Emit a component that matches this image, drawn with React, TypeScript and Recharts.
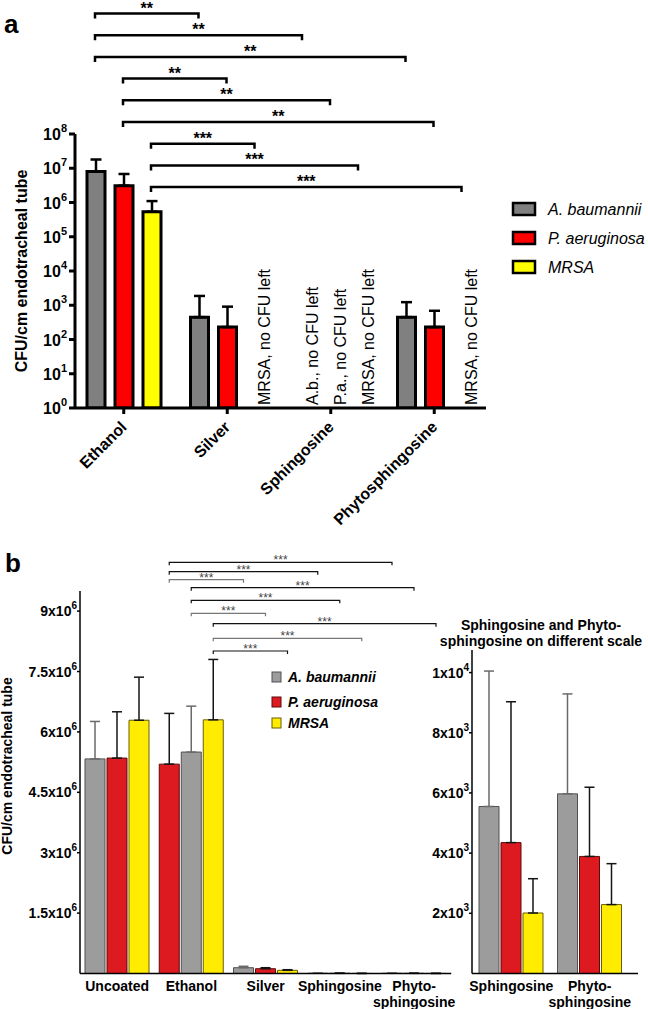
import React from "react";
import { Bar, BarChart, Cell, ErrorBar, ReferenceDot, XAxis, YAxis } from "recharts";

const FONT = "'Liberation Sans', Arial, Helvetica, sans-serif";

const speciesNames = ["A. baumannii", "P. aeruginosa", "MRSA"];

// ---- panel a: log scale ----
const catsA = ["Ethanol", "Silver", "Sphingosine", "Phytosphingosine"];
const abA = [8.0e6, 450, null, 450];
const abSdA = [1.0e7, 1420, null, 780];
const paA = [3.1e6, 230, null, 230];
const paSdA = [3.7e6, 680, null, 460];
const mrsaA = [5.4e5, null, null, null];
const mrsaSdA = [5.6e5, null, null, null];
const abNoteA = [null, null, "A.b., no CFU left", null];
const paNoteA = [null, null, "P.a., no CFU left", null];
const mrsaNoteA = [null, "MRSA, no CFU left", "MRSA, no CFU left", "MRSA, no CFU left"];
const ticksA = [1, 1e1, 1e2, 1e3, 1e4, 1e5, 1e6, 1e7, 1e8];
// Ethanol vs coating, same species slot: [slot, target category, stars]
const sigA: [number, number, string][] = [
  [0, 1, "**"], [0, 2, "**"], [0, 3, "**"],
  [1, 1, "**"], [1, 2, "**"], [1, 3, "**"],
  [2, 1, "***"], [2, 2, "***"], [2, 3, "***"],
];

// ---- panel b: linear scale ----
const catsB = ["Uncoated", "Ethanol", "Silver", "Sphingosine", "Phyto-sphingosine"];
const abB = [5.33e6, 5.5e6, 1.44e5, 5.55e3, 5.97e3];
const abSdB = [0.93e6, 1.14e6, 0.35e5, 4.5e3, 3.32e3];
const paB = [5.35e6, 5.2e6, 1.19e5, 4.35e3, 3.89e3];
const paSdB = [1.15e6, 1.26e6, 0.25e5, 4.68e3, 2.3e3];
const mrsaB = [6.29e6, 6.3e6, 0.79e5, 2.01e3, 2.29e3];
const mrsaSdB = [1.07e6, 1.5e6, 0.15e5, 1.14e3, 1.36e3];
// bar order inside each group (Ethanol has P. aeruginosa first)
const orderB = [
  ["ab", "pa", "mrsa"],
  ["pa", "ab", "mrsa"],
  ["ab", "pa", "mrsa"],
  ["ab", "pa", "mrsa"],
  ["ab", "pa", "mrsa"],
];
const ticksB = [1.5e6, 3e6, 4.5e6, 6e6, 7.5e6, 9e6];
const ticksC = [2e3, 4e3, 6e3, 8e3, 1e4];
// Ethanol slot vs coating slot: [slot, target category]
const sigB: [number, number][] = [
  [0, 4], [0, 3], [0, 2],
  [1, 4], [1, 3], [1, 2],
  [2, 4], [2, 3], [2, 2],
];

// ---- styles / layout ----
const COLORS_A = ["#808080", "#ff0000", "#ffff00"];
const STYLE_B: any = {
  ab: { fill: "#9c9c9c", stroke: "#505050", err: "#6a6a6a" },
  pa: { fill: "#dc1a1f", stroke: "#5c0b0b", err: "#151515" },
  mrsa: { fill: "#ffec00", stroke: "#6b5e00", err: "#151515" },
};
const SIG_B_Y = [562.3, 571.7, 579.7, 587.7, 600.3, 613.3, 623.7, 638.3, 651];
const SIG_B_COLOR = ["#111", "#111", "#777", "#111", "#111", "#777", "#111", "#777", "#111"];

const A = { w: 648, h: 540, top: 134, right: 162, yW: 75, padL: -3, barSize: 18, barGap: 10 };
const B = { top: 540, w: 460, h: 469, mTop: 51, mRight: 8.75, yW: 80, barSize: 20, barGap: 2 };
const C = { left: 420, w: 228, mTop: 110, mRight: 10, yW: 52, padR: 9 };

// centre of a bar slot, same arithmetic as the band scale + bar offset
function slotCenter(r0: number, r1: number, n: number, cat: number, slot: number, size: number, gap: number) {
  const band = (r1 - r0) / n;
  const group = 3 * size + 2 * gap;
  const offset = Math.floor((band - group) / 2);
  return r0 + band * cat + offset + slot * (size + gap) + size / 2;
}

const rowsA = catsA.map((cat, i) => ({
  cat,
  ab: abA[i], abErr: abSdA[i] == null ? null : [0, abSdA[i]],
  pa: paA[i], paErr: paSdA[i] == null ? null : [0, paSdA[i]],
  mrsa: mrsaA[i], mrsaErr: mrsaSdA[i] == null ? null : [0, mrsaSdA[i]],
}));
const notesA = [abNoteA, paNoteA, mrsaNoteA];

const valB: any = { ab: abB, pa: paB, mrsa: mrsaB };
const sdB: any = { ab: abSdB, pa: paSdB, mrsa: mrsaSdB };
const rowsB = catsB.map((cat, i) => {
  const row: any = { cat };
  orderB[i].forEach((sp, s) => {
    row[`v${s}`] = valB[sp][i];
    row[`sp${s}`] = sp;
    row[`eg${s}`] = sp === "ab" ? [0, sdB[sp][i]] : null;
    row[`ek${s}`] = sp !== "ab" ? [0, sdB[sp][i]] : null;
  });
  return row;
});
const rowsC = rowsB.slice(3);

const LogTick = (p: any) => {
  const e = Math.round(Math.log10(p.payload.value));
  return (
    <text x={p.x} y={p.y + 6} textAnchor="end" fontSize={16} fontWeight="bold" fontFamily={FONT} fill="#000">
      10<tspan dy={-8} fontSize={11}>{e}</tspan>
    </text>
  );
};

const SciTick = (p: any) => {
  const v = p.payload.value;
  const e = Math.floor(Math.log10(v) + 1e-9);
  const m = +(v / 10 ** e).toFixed(1);
  return (
    <text x={p.x} y={p.y + 5} textAnchor="end" fontSize={14} fontWeight="bold" fontFamily={FONT} fill="#000">
      {m}x10<tspan dy={-7} fontSize={10}>{e}</tspan>
    </text>
  );
};

const AngleTick = (p: any) => (
  <text transform={`translate(${p.x + 4},${p.y + 12}) rotate(-45)`} textAnchor="end" fontSize={16} fontWeight="bold" fontFamily={FONT} fill="#000">
    {p.payload.value}
  </text>
);

const WrapTick = (p: any) => {
  const parts = String(p.payload.value).split(/(?<=-)/);
  return (
    <text x={p.x} y={p.y} textAnchor="middle" fontSize={14} fontWeight="bold" fontFamily={FONT} fill="#000">
      {parts.map((t, i) => (
        <tspan key={i} x={p.x} dy={i === 0 ? 17 : 16}>{t}</tspan>
      ))}
    </text>
  );
};

const barsB = (rows: any[]) =>
  [0, 1, 2].map((s) => (
    <Bar key={s} dataKey={`v${s}`} strokeWidth={1} isAnimationActive={false}>
      {rows.map((r, i) => (
        <Cell key={i} fill={STYLE_B[r[`sp${s}`]].fill} stroke={STYLE_B[r[`sp${s}`]].stroke} />
      ))}
      <ErrorBar dataKey={`eg${s}`} width={5} stroke={STYLE_B.ab.err} strokeWidth={1.5} direction="y" isAnimationActive={false} />
      <ErrorBar dataKey={`ek${s}`} width={5} stroke={STYLE_B.pa.err} strokeWidth={1.5} direction="y" isAnimationActive={false} />
    </Bar>
  ));

export default function App() {
  const aR0 = A.yW + A.padL;
  const aR1 = A.w - A.right;
  const bR0 = B.yW;
  const bR1 = B.w - B.mRight;
  const thinAxis = { stroke: "#000", strokeWidth: 1.5 };

  // "no CFU left" notes sit in the empty bar slot, anchored on the category via a reference dot
  const noteDots: any[] = [];
  notesA.forEach((notes, s) =>
    notes.forEach((note, i) => {
      if (!note) return;
      noteDots.push(
        <ReferenceDot key={`n${s}-${i}`} x={catsA[i]} y={1} r={1} ifOverflow="visible"
          shape={(p: any) => (
            <text transform={`translate(${p.cx + (s - 1) * (A.barSize + A.barGap) + 15},${p.cy - 3}) rotate(-90)`}
              fontSize={16} fontFamily={FONT} fill="#000">{note}</text>
          )} />
      );
    })
  );

  return (
    <div style={{ position: "absolute", left: 0, top: 0, width: 648, height: 1009, background: "#fff", fontFamily: FONT }}>
      <div style={{ position: "absolute", left: 0, top: 0 }}>
        <BarChart width={A.w} height={A.h} data={rowsA} margin={{ top: A.top, right: A.right, bottom: 0, left: 0 }} barSize={A.barSize} barGap={A.barGap}>
          <XAxis dataKey="cat" height={A.h - 408} padding={{ left: A.padL, right: 0 }} interval={0} tickSize={6}
            axisLine={{ stroke: "#000", strokeWidth: 3 }} tickLine={{ stroke: "#000", strokeWidth: 3 }} tick={AngleTick} />
          <YAxis type="number" scale="log" domain={[1, 1e8]} ticks={ticksA} allowDataOverflow width={A.yW} interval={0} tickSize={6}
            axisLine={{ stroke: "#000", strokeWidth: 3 }} tickLine={{ stroke: "#000", strokeWidth: 3 }} tick={LogTick} />
          {["ab", "pa", "mrsa"].map((k, s) => (
            <Bar key={k} dataKey={k} fill={COLORS_A[s]} stroke="#000" strokeWidth={3} isAnimationActive={false}>
              <ErrorBar dataKey={k + "Err"} width={5.5} stroke="#000" strokeWidth={2.5} direction="y" isAnimationActive={false} />
            </Bar>
          ))}
          {noteDots}
        </BarChart>
      </div>

      <div style={{ position: "absolute", left: 0, top: B.top }}>
        <BarChart width={B.w} height={B.h} data={rowsB} margin={{ top: B.mTop, right: B.mRight, bottom: 0, left: 0 }} barSize={B.barSize} barGap={B.barGap}>
          <XAxis dataKey="cat" height={B.h - (973.5 - B.top)} interval={0} tickSize={0} tickMargin={0} axisLine={thinAxis} tickLine={false} tick={WrapTick} />
          <YAxis type="number" domain={[0, 9.5e6]} ticks={ticksB} allowDataOverflow width={B.yW} interval={0} tickSize={3} tickMargin={0}
            axisLine={thinAxis} tickLine={thinAxis} tick={SciTick} />
          {barsB(rowsB)}
        </BarChart>
      </div>

      <div style={{ position: "absolute", left: C.left, top: B.top }}>
        <BarChart width={C.w} height={B.h} data={rowsC} margin={{ top: C.mTop, right: C.mRight, bottom: 0, left: 0 }} barSize={B.barSize} barGap={B.barGap}>
          <XAxis dataKey="cat" height={B.h - (973.5 - B.top)} padding={{ left: 0, right: C.padR }} interval={0} tickSize={0} tickMargin={0}
            axisLine={thinAxis} tickLine={false} tick={WrapTick} />
          <YAxis type="number" domain={[0, 10750]} ticks={ticksC} allowDataOverflow width={C.yW} interval={0} tickSize={3} tickMargin={0}
            axisLine={thinAxis} tickLine={thinAxis} tick={SciTick} />
          {barsB(rowsC)}
        </BarChart>
      </div>

      <svg width={648} height={1009} style={{ position: "absolute", left: 0, top: 0, pointerEvents: "none" }} fontFamily={FONT}>
        <text x={4} y={33} fontSize={26} fontWeight="bold">a</text>
        <text x={5} y={572} fontSize={26} fontWeight="bold">b</text>
        <text transform="translate(27,271) rotate(-90)" textAnchor="middle" fontSize={16} fontWeight="bold">CFU/cm endotracheal tube</text>
        <text transform="translate(12,766) rotate(-90)" textAnchor="middle" fontSize={14} fontWeight="bold">CFU/cm endotracheal tube</text>

        {speciesNames.map((name, i) => (
          <g key={"la" + i}>
            <rect x={513} y={203 + i * 29} width={22} height={12} fill={COLORS_A[i]} stroke="#000" strokeWidth={2.5} />
            <text x={548} y={215 + i * 29} fontSize={16} fontStyle="italic">{name}</text>
          </g>
        ))}
        {speciesNames.map((name, i) => {
          const st = STYLE_B[["ab", "pa", "mrsa"][i]];
          const cy = [677, 702, 723][i];
          return (
            <g key={"lb" + i}>
              <rect x={272} y={cy - 5} width={9} height={10} fill={st.fill} stroke={st.stroke} strokeWidth={1} />
              <text x={288} y={cy + 5} fontSize={14} fontWeight="bold" fontStyle="italic">{name}</text>
            </g>
          );
        })}

        <text x={541} y={630} textAnchor="middle" fontSize={14} fontWeight="bold">Sphingosine and Phyto-</text>
        <text x={541} y={646} textAnchor="middle" fontSize={14} fontWeight="bold">sphingosine on different scale</text>

        {sigA.map(([slot, target, stars], i) => {
          const y = 13.5 + i * 21.7;
          const x1 = slotCenter(aR0, aR1, catsA.length, 0, slot, A.barSize, A.barGap);
          const x2 = slotCenter(aR0, aR1, catsA.length, target, slot, A.barSize, A.barGap);
          return (
            <g key={"sa" + i}>
              <path d={`M${x1},${y + 5}V${y}H${x2}V${y + 5}`} fill="none" stroke="#000" strokeWidth={2.5} />
              <text x={(x1 + x2) / 2} y={y} textAnchor="middle" fontSize={16} fontWeight="bold">{stars}</text>
            </g>
          );
        })}
        {sigB.map(([slot, target], i) => {
          const y = SIG_B_Y[i];
          const x1 = slotCenter(bR0, bR1, catsB.length, 1, slot, B.barSize, B.barGap);
          const x2 = slotCenter(bR0, bR1, catsB.length, target, slot, B.barSize, B.barGap);
          return (
            <g key={"sb" + i}>
              <path d={`M${x1},${y + 3}V${y}H${x2}V${y + 3}`} fill="none" stroke={SIG_B_COLOR[i]} strokeWidth={1.2} />
              <text x={(x1 + x2) / 2} y={y + 2} textAnchor="middle" fontSize={12} fill="#444">***</text>
            </g>
          );
        })}
      </svg>
    </div>
  );
}
